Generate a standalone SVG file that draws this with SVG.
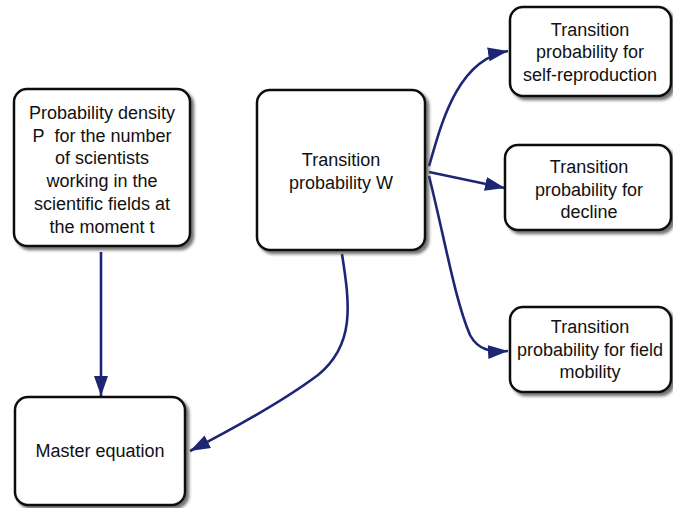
<svg xmlns="http://www.w3.org/2000/svg" width="673" height="508" viewBox="0 0 673 508">
<style>
.box{fill:#fff;stroke:#111;stroke-width:2.5;filter:url(#sh)}
.t{font-family:"Liberation Sans",Arial,sans-serif;font-size:18px;fill:#111;text-anchor:middle}
.c{fill:none;stroke:#1c2675;stroke-width:2.6;marker-end:url(#ah)}
</style>
<defs>
<filter id="sh" x="-10%" y="-10%" width="125%" height="125%">
<feDropShadow dx="3" dy="3" stdDeviation="1.5" flood-color="#444" flood-opacity="0.75"/>
</filter>
<marker id="ah" markerUnits="userSpaceOnUse" markerWidth="22" markerHeight="15" refX="20" refY="7" orient="auto" viewBox="0 0 22 15">
<path d="M0,0 L20,7 L0,14 z" fill="#1c2675"/>
</marker>
</defs>
<rect width="673" height="508" fill="#fff"/>
<g id="connectors">
<path class="c" d="M101,252 L101,396"/>
<path class="c" d="M342,254 C350,305 355,345 318,375 C290,396 250,420 190,451"/>
<path class="c" d="M429,166 C440,130 455,60 508,51"/>
<path class="c" d="M429,172 L505,188"/>
<path class="c" d="M429,176 C445,240 455,300 470,335 C478,350 490,352 508,351"/>
</g>
<g id="node-density">
<rect class="box" x="14" y="89" width="176" height="157" rx="13"/>
<text class="t" x="102" y="119">Probability density</text>
<text class="t" x="102" y="141.5">P&#160; for the number</text>
<text class="t" x="102" y="164">of scientists</text>
<text class="t" x="102" y="187">working in the</text>
<text class="t" x="102" y="210">scientific fields at</text>
<text class="t" x="102" y="233">the moment t</text>
</g>
<g id="node-w">
<rect class="box" x="257" y="90" width="168" height="160" rx="13"/>
<text class="t" x="341" y="166">Transition</text>
<text class="t" x="341" y="189">probability W</text>
</g>
<g id="node-self">
<rect class="box" x="510" y="7" width="161" height="89" rx="13"/>
<text class="t" x="590" y="36">Transition</text>
<text class="t" x="590" y="58">probability for</text>
<text class="t" x="590" y="81">self-reproduction</text>
</g>
<g id="node-decline">
<rect class="box" x="505" y="145" width="166" height="85" rx="13"/>
<text class="t" x="589" y="173">Transition</text>
<text class="t" x="589" y="196">probability for</text>
<text class="t" x="589" y="218">decline</text>
</g>
<g id="node-mobility">
<rect class="box" x="510" y="307" width="161" height="85" rx="13"/>
<text class="t" x="590" y="333">Transition</text>
<text class="t" x="590" y="356">probability for field</text>
<text class="t" x="590" y="378">mobility</text>
</g>
<g id="node-master">
<rect class="box" x="15" y="397" width="170" height="108" rx="13"/>
<text class="t" x="100" y="457">Master equation</text>
</g>
</svg>
